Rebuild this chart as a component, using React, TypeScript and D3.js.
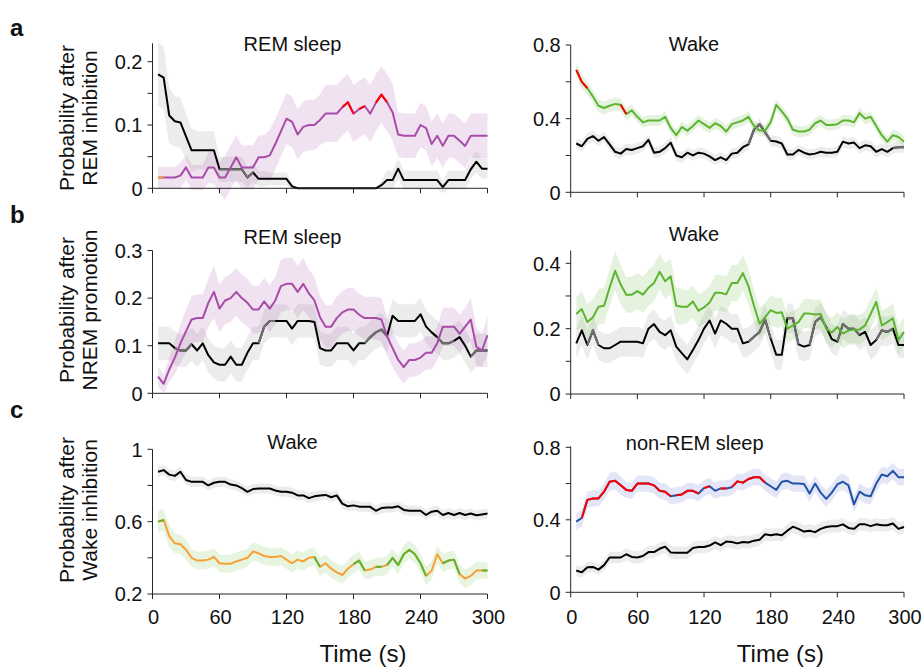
import React from 'react';
import * as d3 from 'd3';

// sample times (s)
const time = [5, 10, 15, 20, 25, 30, 35, 40, 45, 50, 55, 60, 65, 70, 75, 80, 85, 90, 95, 100,
  105, 110, 115, 120, 125, 130, 135, 140, 145, 150, 155, 160, 165, 170, 175, 180, 185, 190, 195, 200,
  205, 210, 215, 220, 225, 230, 235, 240, 245, 250, 255, 260, 265, 270, 275, 280, 285, 290, 295, 300];
const xTicks = [0, 60, 120, 180, 240, 300];

// a: REM inhibition, REM sleep
const aRemCtrl = [0.18, 0.175, 0.115, 0.106, 0.104, 0.082, 0.06, 0.06, 0.06, 0.06,
  0.06, 0.03, 0.03, 0.03, 0.03, 0.03, 0.017, 0.025, 0.015, 0.015,
  0.015, 0.015, 0.015, 0.015, 0.003, 0, 0, 0, 0, 0,
  0, 0, 0, 0, 0, 0, 0, 0, 0, 0,
  0.005, 0.013, 0.013, 0.031, 0.013, 0.013, 0.013, 0.013, 0.013, 0.013,
  0.013, 0.002, 0.013, 0.013, 0.013, 0.013, 0.03, 0.042, 0.031, 0.031];
const aRemCtrlSem = [0.05, 0.05, 0.045, 0.04, 0.04, 0.035, 0.035, 0.03, 0.03, 0.03,
  0.03, 0.02, 0.02, 0.02, 0.02, 0.02, 0.016, 0.015, 0.012, 0.012,
  0.01, 0.01, 0.01, 0.01, 0.006, 0, 0, 0, 0, 0,
  0, 0, 0, 0, 0, 0, 0, 0, 0, 0,
  0.008, 0.015, 0.015, 0.016, 0.015, 0.015, 0.015, 0.015, 0.015, 0.015,
  0.015, 0.01, 0.015, 0.015, 0.015, 0.015, 0.016, 0.017, 0.016, 0.016];
const aRemExp = [0.017, 0.017, 0.017, 0.017, 0.02, 0.033, 0.017, 0.017, 0.017, 0.033,
  0.033, 0.017, 0.017, 0.033, 0.049, 0.033, 0.033, 0.033, 0.049, 0.049,
  0.052, 0.07, 0.09, 0.11, 0.105, 0.085, 0.097, 0.1, 0.1, 0.108,
  0.118, 0.118, 0.118, 0.128, 0.136, 0.118, 0.125, 0.13, 0.118, 0.135,
  0.148, 0.136, 0.12, 0.085, 0.083, 0.083, 0.083, 0.1, 0.095, 0.07,
  0.083, 0.067, 0.083, 0.083, 0.075, 0.067, 0.083, 0.083, 0.083, 0.083];
const aRemExpSem = [0.017, 0.017, 0.017, 0.017, 0.02, 0.02, 0.02, 0.02, 0.02, 0.025,
  0.025, 0.025, 0.035, 0.035, 0.035, 0.035, 0.035, 0.035, 0.035, 0.035,
  0.04, 0.04, 0.04, 0.04, 0.04, 0.04, 0.04, 0.04, 0.04, 0.04,
  0.045, 0.045, 0.045, 0.045, 0.045, 0.045, 0.045, 0.045, 0.045, 0.045,
  0.045, 0.045, 0.045, 0.035, 0.035, 0.035, 0.035, 0.035, 0.035, 0.035,
  0.035, 0.035, 0.035, 0.035, 0.035, 0.035, 0.035, 0.035, 0.035, 0.035];

// a: REM inhibition, wake
const aWakeCtrl = [0.265, 0.25, 0.29, 0.305, 0.28, 0.3, 0.26, 0.22, 0.21, 0.235,
  0.23, 0.24, 0.25, 0.285, 0.215, 0.22, 0.24, 0.27, 0.2, 0.19,
  0.215, 0.2, 0.215, 0.21, 0.195, 0.175, 0.19, 0.175, 0.21, 0.215,
  0.245, 0.26, 0.34, 0.37, 0.326, 0.28, 0.276, 0.265, 0.205, 0.205,
  0.23, 0.215, 0.205, 0.21, 0.22, 0.215, 0.215, 0.22, 0.275, 0.265,
  0.27, 0.24, 0.255, 0.25, 0.22, 0.235, 0.22, 0.24, 0.245, 0.245];
const aWakeCtrlSem = [0.03, 0.03, 0.03, 0.03, 0.03, 0.03, 0.03, 0.03, 0.03, 0.03,
  0.03, 0.03, 0.03, 0.03, 0.03, 0.03, 0.03, 0.03, 0.03, 0.03,
  0.028, 0.028, 0.028, 0.028, 0.028, 0.028, 0.028, 0.028, 0.028, 0.028,
  0.03, 0.03, 0.03, 0.03, 0.03, 0.03, 0.03, 0.03, 0.03, 0.03,
  0.028, 0.028, 0.028, 0.028, 0.028, 0.028, 0.028, 0.028, 0.03, 0.03,
  0.03, 0.03, 0.03, 0.03, 0.03, 0.03, 0.03, 0.03, 0.03, 0.03];
const aWakeExp = [0.665, 0.6, 0.565, 0.52, 0.47, 0.458, 0.47, 0.48, 0.475, 0.425,
  0.445, 0.41, 0.38, 0.39, 0.39, 0.39, 0.41, 0.35, 0.31, 0.355,
  0.335, 0.36, 0.39, 0.37, 0.35, 0.375, 0.36, 0.33, 0.37, 0.38,
  0.39, 0.41, 0.36, 0.335, 0.335, 0.38, 0.475, 0.44, 0.4, 0.34,
  0.33, 0.33, 0.34, 0.375, 0.39, 0.365, 0.365, 0.37, 0.39, 0.39,
  0.38, 0.43, 0.4, 0.41, 0.36, 0.31, 0.275, 0.31, 0.3, 0.275];
const aWakeExpSem = [0.04, 0.04, 0.035, 0.035, 0.035, 0.035, 0.035, 0.035, 0.035, 0.035,
  0.03, 0.03, 0.03, 0.03, 0.03, 0.03, 0.03, 0.03, 0.03, 0.03,
  0.03, 0.03, 0.03, 0.03, 0.03, 0.03, 0.03, 0.03, 0.03, 0.03,
  0.03, 0.03, 0.03, 0.03, 0.03, 0.03, 0.03, 0.03, 0.03, 0.03,
  0.03, 0.03, 0.03, 0.03, 0.03, 0.03, 0.03, 0.03, 0.03, 0.03,
  0.03, 0.03, 0.03, 0.03, 0.03, 0.03, 0.03, 0.03, 0.03, 0.03];

// b: NREM promotion, REM sleep
const bRemCtrl = [0.105, 0.105, 0.105, 0.095, 0.09, 0.09, 0.103, 0.09, 0.105, 0.08,
  0.065, 0.06, 0.06, 0.077, 0.06, 0.06, 0.085, 0.105, 0.105, 0.14,
  0.152, 0.152, 0.152, 0.152, 0.136, 0.152, 0.152, 0.152, 0.15, 0.095,
  0.09, 0.09, 0.105, 0.105, 0.105, 0.09, 0.105, 0.105, 0.118, 0.128,
  0.134, 0.12, 0.163, 0.152, 0.152, 0.152, 0.152, 0.166, 0.14, 0.128,
  0.118, 0.105, 0.105, 0.11, 0.118, 0.1, 0.077, 0.09, 0.09, 0.09];
const bRemCtrlSem = [0.035, 0.035, 0.035, 0.035, 0.035, 0.035, 0.035, 0.035, 0.035, 0.035,
  0.035, 0.035, 0.035, 0.035, 0.035, 0.035, 0.035, 0.035, 0.035, 0.035,
  0.035, 0.035, 0.035, 0.035, 0.035, 0.035, 0.035, 0.035, 0.035, 0.035,
  0.035, 0.035, 0.035, 0.035, 0.035, 0.035, 0.035, 0.035, 0.035, 0.035,
  0.035, 0.035, 0.035, 0.035, 0.035, 0.035, 0.035, 0.035, 0.035, 0.035,
  0.035, 0.035, 0.035, 0.035, 0.035, 0.035, 0.035, 0.035, 0.035, 0.035];
const bRemExp = [0.035, 0.02, 0.05, 0.075, 0.105, 0.13, 0.155, 0.158, 0.158, 0.19,
  0.213, 0.178, 0.195, 0.2, 0.213, 0.2, 0.19, 0.176, 0.176, 0.193,
  0.178, 0.195, 0.225, 0.23, 0.23, 0.213, 0.23, 0.21, 0.195, 0.16,
  0.14, 0.14, 0.158, 0.17, 0.176, 0.176, 0.165, 0.158, 0.158, 0.158,
  0.155, 0.12, 0.095, 0.07, 0.055, 0.07, 0.07, 0.075, 0.085, 0.085,
  0.105, 0.14, 0.14, 0.14, 0.125, 0.14, 0.155, 0.098, 0.09, 0.122];
const bRemExpSem = [0.02, 0.02, 0.025, 0.035, 0.04, 0.045, 0.05, 0.05, 0.05, 0.05,
  0.055, 0.05, 0.05, 0.05, 0.05, 0.05, 0.05, 0.05, 0.05, 0.05,
  0.05, 0.05, 0.055, 0.055, 0.055, 0.055, 0.055, 0.05, 0.05, 0.045,
  0.045, 0.045, 0.045, 0.045, 0.045, 0.045, 0.045, 0.045, 0.045, 0.045,
  0.045, 0.04, 0.04, 0.035, 0.035, 0.035, 0.035, 0.035, 0.035, 0.035,
  0.035, 0.04, 0.04, 0.04, 0.04, 0.04, 0.045, 0.04, 0.035, 0.04];

// b: NREM promotion, wake
const bWakeCtrl = [0.155, 0.195, 0.15, 0.195, 0.15, 0.14, 0.14, 0.15, 0.16, 0.16,
  0.16, 0.16, 0.155, 0.2, 0.214, 0.19, 0.18, 0.195, 0.145, 0.125,
  0.106, 0.135, 0.165, 0.2, 0.225, 0.185, 0.225, 0.215, 0.2, 0.2,
  0.155, 0.16, 0.175, 0.19, 0.228, 0.17, 0.12, 0.12, 0.232, 0.232,
  0.152, 0.145, 0.15, 0.22, 0.235, 0.205, 0.168, 0.16, 0.214, 0.2,
  0.2, 0.18, 0.19, 0.15, 0.165, 0.195, 0.19, 0.2, 0.15, 0.15];
const bWakeCtrlSem = [0.045, 0.045, 0.045, 0.045, 0.045, 0.045, 0.045, 0.045, 0.045, 0.045,
  0.045, 0.045, 0.045, 0.045, 0.045, 0.045, 0.045, 0.045, 0.045, 0.045,
  0.045, 0.045, 0.045, 0.045, 0.045, 0.045, 0.045, 0.045, 0.045, 0.045,
  0.045, 0.045, 0.045, 0.045, 0.045, 0.045, 0.045, 0.045, 0.045, 0.045,
  0.045, 0.045, 0.045, 0.045, 0.045, 0.045, 0.045, 0.045, 0.045, 0.045,
  0.045, 0.045, 0.045, 0.045, 0.045, 0.045, 0.045, 0.045, 0.04, 0.04];
const bWakeExp = [0.245, 0.26, 0.22, 0.235, 0.267, 0.27, 0.325, 0.377, 0.335, 0.304,
  0.304, 0.315, 0.304, 0.325, 0.34, 0.374, 0.345, 0.36, 0.27, 0.267,
  0.267, 0.283, 0.255, 0.265, 0.28, 0.31, 0.31, 0.305, 0.34, 0.34,
  0.37, 0.33, 0.27, 0.215, 0.235, 0.257, 0.248, 0.25, 0.2, 0.21,
  0.22, 0.246, 0.246, 0.243, 0.245, 0.2, 0.188, 0.205, 0.185, 0.194,
  0.197, 0.197, 0.21, 0.245, 0.282, 0.21, 0.22, 0.232, 0.165, 0.19];
const bWakeExpSem = [0.05, 0.055, 0.055, 0.055, 0.055, 0.055, 0.055, 0.06, 0.06, 0.055,
  0.055, 0.055, 0.055, 0.055, 0.055, 0.055, 0.055, 0.055, 0.055, 0.055,
  0.05, 0.05, 0.05, 0.05, 0.05, 0.055, 0.055, 0.055, 0.055, 0.055,
  0.055, 0.055, 0.05, 0.05, 0.045, 0.045, 0.045, 0.045, 0.045, 0.045,
  0.045, 0.045, 0.045, 0.045, 0.045, 0.045, 0.045, 0.045, 0.045, 0.045,
  0.045, 0.045, 0.045, 0.045, 0.045, 0.045, 0.045, 0.045, 0.045, 0.045];

// c: wake inhibition, wake
const cWakeCtrl = [0.876, 0.885, 0.86, 0.853, 0.876, 0.83, 0.82, 0.82, 0.82, 0.8,
  0.815, 0.82, 0.82, 0.805, 0.8, 0.785, 0.765, 0.78, 0.783, 0.783,
  0.783, 0.772, 0.765, 0.765, 0.76, 0.745, 0.745, 0.73, 0.74, 0.745,
  0.748, 0.735, 0.745, 0.7, 0.685, 0.69, 0.683, 0.682, 0.682, 0.66,
  0.675, 0.678, 0.678, 0.685, 0.665, 0.66, 0.66, 0.66, 0.637, 0.655,
  0.66, 0.637, 0.648, 0.637, 0.648, 0.637, 0.645, 0.635, 0.64, 0.645];
const cWakeCtrlSem = [0.028, 0.028, 0.028, 0.028, 0.028, 0.028, 0.028, 0.028, 0.028, 0.028,
  0.028, 0.028, 0.028, 0.028, 0.028, 0.028, 0.028, 0.028, 0.028, 0.028,
  0.028, 0.028, 0.028, 0.028, 0.028, 0.028, 0.028, 0.028, 0.028, 0.028,
  0.028, 0.028, 0.028, 0.028, 0.028, 0.028, 0.028, 0.028, 0.028, 0.028,
  0.028, 0.028, 0.028, 0.028, 0.028, 0.028, 0.028, 0.028, 0.028, 0.028,
  0.028, 0.028, 0.028, 0.028, 0.028, 0.028, 0.028, 0.028, 0.028, 0.028];
const cWakeExp = [0.6, 0.61, 0.52, 0.48, 0.475, 0.445, 0.4, 0.385, 0.385, 0.39,
  0.405, 0.37, 0.367, 0.367, 0.38, 0.39, 0.4, 0.435, 0.425, 0.41,
  0.405, 0.405, 0.41, 0.39, 0.37, 0.39, 0.38, 0.4, 0.405, 0.35,
  0.37, 0.34, 0.32, 0.305, 0.34, 0.365, 0.385, 0.33, 0.335, 0.35,
  0.35, 0.36, 0.4, 0.36, 0.42, 0.445, 0.42, 0.37, 0.3, 0.33,
  0.42, 0.37, 0.385, 0.39, 0.31, 0.285, 0.3, 0.33, 0.33, 0.33];
const cWakeExpSem = [0.06, 0.06, 0.06, 0.055, 0.055, 0.055, 0.05, 0.05, 0.05, 0.05,
  0.05, 0.05, 0.05, 0.05, 0.05, 0.05, 0.05, 0.05, 0.05, 0.05,
  0.05, 0.05, 0.05, 0.05, 0.05, 0.05, 0.05, 0.05, 0.05, 0.05,
  0.05, 0.05, 0.05, 0.05, 0.05, 0.05, 0.05, 0.05, 0.05, 0.05,
  0.05, 0.05, 0.05, 0.05, 0.05, 0.05, 0.05, 0.05, 0.05, 0.05,
  0.05, 0.05, 0.05, 0.05, 0.05, 0.05, 0.05, 0.05, 0.045, 0.045];

// c: wake inhibition, non-REM sleep
const cNremCtrl = [0.12, 0.11, 0.138, 0.14, 0.125, 0.15, 0.192, 0.192, 0.192, 0.21,
  0.195, 0.192, 0.2, 0.222, 0.222, 0.24, 0.252, 0.22, 0.218, 0.218,
  0.218, 0.245, 0.25, 0.25, 0.258, 0.275, 0.26, 0.28, 0.278, 0.27,
  0.278, 0.275, 0.285, 0.29, 0.32, 0.315, 0.32, 0.315, 0.34, 0.362,
  0.35, 0.335, 0.34, 0.332, 0.35, 0.36, 0.365, 0.365, 0.375, 0.355,
  0.35, 0.375, 0.375, 0.365, 0.375, 0.37, 0.37, 0.38, 0.35, 0.36];
const cNremCtrlSem = [0.03, 0.03, 0.03, 0.03, 0.03, 0.03, 0.032, 0.032, 0.032, 0.032,
  0.035, 0.035, 0.035, 0.035, 0.035, 0.035, 0.035, 0.035, 0.035, 0.035,
  0.035, 0.035, 0.035, 0.035, 0.035, 0.035, 0.035, 0.035, 0.035, 0.035,
  0.035, 0.035, 0.035, 0.035, 0.035, 0.035, 0.035, 0.035, 0.035, 0.035,
  0.035, 0.035, 0.035, 0.035, 0.035, 0.035, 0.035, 0.035, 0.035, 0.035,
  0.035, 0.035, 0.035, 0.035, 0.035, 0.035, 0.035, 0.035, 0.035, 0.035];
const cNremExp = [0.39, 0.41, 0.51, 0.518, 0.518, 0.555, 0.61, 0.616, 0.59, 0.565,
  0.56, 0.6, 0.6, 0.6, 0.59, 0.56, 0.555, 0.53, 0.535, 0.54,
  0.56, 0.56, 0.545, 0.575, 0.585, 0.56, 0.573, 0.573, 0.58, 0.612,
  0.605, 0.625, 0.635, 0.635, 0.605, 0.585, 0.565, 0.61, 0.615, 0.6,
  0.6, 0.598, 0.545, 0.6, 0.55, 0.515, 0.55, 0.595, 0.61, 0.59,
  0.485, 0.555, 0.535, 0.53, 0.6, 0.65, 0.64, 0.67, 0.635, 0.635];
const cNremExpSem = [0.045, 0.045, 0.045, 0.045, 0.045, 0.045, 0.05, 0.05, 0.05, 0.045,
  0.045, 0.045, 0.045, 0.045, 0.045, 0.045, 0.045, 0.045, 0.045, 0.045,
  0.045, 0.045, 0.045, 0.045, 0.045, 0.045, 0.045, 0.045, 0.045, 0.045,
  0.045, 0.045, 0.045, 0.045, 0.045, 0.045, 0.045, 0.045, 0.045, 0.045,
  0.045, 0.045, 0.045, 0.045, 0.045, 0.045, 0.045, 0.045, 0.045, 0.045,
  0.045, 0.045, 0.045, 0.045, 0.045, 0.045, 0.045, 0.045, 0.045, 0.045];

// time ranges (s) where a line changes colour
const aRemCtrlGrey = [[60, 90]];
const aRemExpOrange = [[0, 10]];
const aRemExpRed = [[170, 180], [185, 190], [200, 210]];
const aWakeCtrlGrey = [[160, 182], [290, 300]];
const aWakeExpRed = [[0, 17], [43, 50]];
const bRemCtrlGrey = [[18, 33], [95, 110], [188, 212], [255, 272], [287, 300]];
const bWakeCtrlGrey = [[17, 23], [160, 180], [193, 203], [215, 230], [242, 262], [275, 290]];
const cWakeExpGreen = [[0, 12], [143, 150], [182, 188], [198, 205], [212, 245], [258, 276], [295, 300]];
const cNremExpRed = [[12, 90], [95, 115], [118, 127], [133, 142], [146, 175]];

const BLACK = '#000000';
const GREY = '#6f6f6f';
const PURPLE = '#a84ca8';
const RED = '#ff0000';
const ORANGE = '#f7a136';
const GREEN = '#5cb531';
const BLUE = '#2452a8';
const FONT = 'Liberation Sans, Arial, Helvetica, sans-serif';

type Highlight = { color: string; ranges: number[][] };
type Series = { values: number[]; sem: number[]; color: string; band: string; bandOpacity: number; highlights: Highlight[] };
type Panel = {
  col: [number, number];
  yDomain: [number, number];
  yRange: [number, number];
  yTop: number;
  ticks: number[];
  labeled: number[];
  title: string;
  titleX: number;
  titleY: number;
  xLabels: boolean;
  series: Series[];
};

const LEFT: [number, number] = [152.5, 487.5];
const RIGHT: [number, number] = [570.7, 904];

const ctrl = (values: number[], sem: number[], highlights: Highlight[] = []): Series =>
  ({ values, sem, color: BLACK, band: '#000000', bandOpacity: 0.075, highlights });

const panels: Panel[] = [
  {
    col: LEFT, yDomain: [0, 0.2], yRange: [188.3, 61.7], yTop: 0.229,
    ticks: [0, 0.05, 0.1, 0.15, 0.2], labeled: [0, 0.1, 0.2],
    title: 'REM sleep', titleX: 292.5, titleY: 51, xLabels: false,
    series: [
      ctrl(aRemCtrl, aRemCtrlSem, [{ color: GREY, ranges: aRemCtrlGrey }]),
      { values: aRemExp, sem: aRemExpSem, color: PURPLE, band: PURPLE, bandOpacity: 0.16,
        highlights: [{ color: ORANGE, ranges: aRemExpOrange }, { color: RED, ranges: aRemExpRed }] },
    ],
  },
  {
    col: RIGHT, yDomain: [0, 0.8], yRange: [192.3, 45], yTop: 0.8,
    ticks: [0, 0.2, 0.4, 0.6, 0.8], labeled: [0, 0.4, 0.8],
    title: 'Wake', titleX: 694, titleY: 51, xLabels: false,
    series: [
      ctrl(aWakeCtrl, aWakeCtrlSem, [{ color: GREY, ranges: aWakeCtrlGrey }]),
      { values: aWakeExp, sem: aWakeExpSem, color: GREEN, band: GREEN, bandOpacity: 0.16,
        highlights: [{ color: RED, ranges: aWakeExpRed }] },
    ],
  },
  {
    col: LEFT, yDomain: [0, 0.3], yRange: [393.3, 250.5], yTop: 0.3,
    ticks: [0, 0.1, 0.2, 0.3], labeled: [0, 0.1, 0.2, 0.3],
    title: 'REM sleep', titleX: 292.5, titleY: 243.5, xLabels: false,
    series: [
      ctrl(bRemCtrl, bRemCtrlSem, [{ color: GREY, ranges: bRemCtrlGrey }]),
      { values: bRemExp, sem: bRemExpSem, color: PURPLE, band: PURPLE, bandOpacity: 0.16, highlights: [] },
    ],
  },
  {
    col: RIGHT, yDomain: [0, 0.4], yRange: [394, 263.3], yTop: 0.439,
    ticks: [0, 0.1, 0.2, 0.3, 0.4], labeled: [0, 0.2, 0.4],
    title: 'Wake', titleX: 694, titleY: 241, xLabels: false,
    series: [
      ctrl(bWakeCtrl, bWakeCtrlSem, [{ color: GREY, ranges: bWakeCtrlGrey }]),
      { values: bWakeExp, sem: bWakeExpSem, color: GREEN, band: GREEN, bandOpacity: 0.16, highlights: [] },
    ],
  },
  {
    col: LEFT, yDomain: [0.2, 1], yRange: [594, 449.3], yTop: 1,
    ticks: [0.2, 0.4, 0.6, 0.8, 1], labeled: [0.2, 0.6, 1],
    title: 'Wake', titleX: 292.5, titleY: 448.5, xLabels: true,
    series: [
      ctrl(cWakeCtrl, cWakeCtrlSem),
      { values: cWakeExp, sem: cWakeExpSem, color: ORANGE, band: GREEN, bandOpacity: 0.15,
        highlights: [{ color: GREEN, ranges: cWakeExpGreen }] },
    ],
  },
  {
    col: RIGHT, yDomain: [0, 0.8], yRange: [592.3, 447.3], yTop: 0.805,
    ticks: [0, 0.2, 0.4, 0.6, 0.8], labeled: [0, 0.4, 0.8],
    title: 'non-REM sleep', titleX: 694.7, titleY: 449.5, xLabels: true,
    series: [
      ctrl(cNremCtrl, cNremCtrlSem),
      { values: cNremExp, sem: cNremExpSem, color: BLUE, band: '#3a50c0', bandOpacity: 0.14,
        highlights: [{ color: RED, ranges: cNremExpRed }] },
    ],
  },
];

const rowLabels = [
  { letter: 'a', y: 36, cy: 118, lines: ['Probability after', 'REM inhibition'] },
  { letter: 'b', y: 223, cy: 310, lines: ['Probability after', 'NREM promotion'] },
  { letter: 'c', y: 418, cy: 510, lines: ['Probability after', 'Wake inhibition'] },
];

// index runs [i, i+1, ...] of segments whose midpoint lies in one of the ranges
function runs(ranges: number[][]): number[][] {
  const out: number[][] = [];
  let cur: number[] = [];
  for (let i = 0; i < time.length - 1; i++) {
    const mid = (time[i] + time[i + 1]) / 2;
    const hit = ranges.some(r => mid >= r[0] && mid <= r[1]);
    if (hit) {
      if (cur.length === 0) cur.push(i);
      cur.push(i + 1);
    } else if (cur.length) {
      out.push(cur);
      cur = [];
    }
  }
  if (cur.length) out.push(cur);
  return out;
}

function PanelView({ p }: { p: Panel }) {
  const x = d3.scaleLinear().domain([0, 300]).range(p.col);
  const y = d3.scaleLinear().domain(p.yDomain).range(p.yRange);
  const y0 = y(p.yDomain[0]);
  const fmt = (v: number) => (v === 0 ? '0' : String(+v.toFixed(2)));

  return (
    <g>
      {p.series.map((s, k) => {
        const area = d3.area<number>()
          .x((_, i) => x(time[i]))
          .y0((d, i) => y(d - s.sem[i]))
          .y1((d, i) => y(d + s.sem[i]));
        return <path key={'b' + k} d={area(s.values) || ''} fill={s.band} fillOpacity={s.bandOpacity} stroke="none" />;
      })}
      {p.series.map((s, k) => {
        const line = d3.line<number>().x(i => x(time[i])).y(i => y(s.values[i]));
        const all = time.map((_, i) => i);
        return (
          <g key={'l' + k} fill="none" strokeWidth={2} strokeLinejoin="round">
            <path d={line(all) || ''} stroke={s.color} />
            {s.highlights.map((h, j) =>
              runs(h.ranges).map((r, m) => <path key={j + '-' + m} d={line(r) || ''} stroke={h.color} />)
            )}
          </g>
        );
      })}
      {/* axes */}
      <g stroke="#262626" strokeWidth={1} fill="none">
        <line x1={p.col[0]} x2={p.col[1]} y1={y0} y2={y0} />
        <line x1={p.col[0]} x2={p.col[0]} y1={y0} y2={y(p.yTop)} />
        {xTicks.map(t => <line key={t} x1={x(t)} x2={x(t)} y1={y0} y2={y0 + 5} />)}
        {p.ticks.map(t => <line key={t} x1={p.col[0] - 5} x2={p.col[0]} y1={y(t)} y2={y(t)} />)}
      </g>
      <g fontFamily={FONT} fontSize={20} fill="#111">
        {p.labeled.map(t => (
          <text key={t} x={p.col[0] - 10} y={y(t)} dy="0.36em" textAnchor="end">{fmt(t)}</text>
        ))}
        {p.xLabels && xTicks.map(t => (
          <text key={t} x={x(t) + 1} y={624} textAnchor="middle">{t}</text>
        ))}
        {p.xLabels && (
          <text x={(p.col[0] + p.col[1]) / 2 + 43} y={662} fontSize={24} textAnchor="middle">Time (s)</text>
        )}
        <text x={p.titleX} y={p.titleY} fontSize={20} textAnchor="middle">{p.title}</text>
      </g>
    </g>
  );
}

export default function App() {
  return (
    <svg width={924} height={669} viewBox="0 0 924 669"
      style={{ position: 'absolute', left: 0, top: 0, background: '#fff' }}>
      <rect width={924} height={669} fill="#fff" />
      {panels.map((p, i) => <PanelView key={i} p={p} />)}
      {rowLabels.map(r => (
        <g key={r.letter} fontFamily={FONT} fill="#111">
          <text x={10} y={r.y} fontSize={24} fontWeight="bold">{r.letter}</text>
          <text transform={`translate(74,${r.cy}) rotate(-90)`} fontSize={21} textAnchor="middle">{r.lines[0]}</text>
          <text transform={`translate(97,${r.cy}) rotate(-90)`} fontSize={21} textAnchor="middle">{r.lines[1]}</text>
        </g>
      ))}
    </svg>
  );
}
